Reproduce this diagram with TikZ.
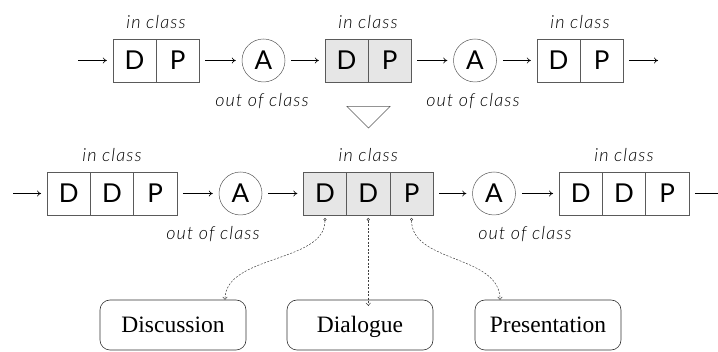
\documentclass[tikz,border=0pt]{standalone}
\usepackage{fontspec}
\setmainfont{Liberation Serif}
\newfontfamily\labfont{Lato}[UprightFont=* Light, ItalicFont=* Light Italic]
\newfontfamily\letfont{Lato}
\usetikzlibrary{arrows.meta}
\definecolor{cellgray}{HTML}{E6E6E6}
\definecolor{linegray}{HTML}{5A5A5A}
\begin{document}
\begin{tikzpicture}[x=1pt,y=-1pt,
  cell/.style={draw=linegray, line width=0.5pt, minimum width=43.3pt, minimum height=43pt,
    inner sep=0pt, outer sep=0pt, font=\letfont\fontsize{26}{26}\selectfont},
  hl/.style={fill=cellgray},
  act/.style={circle, draw=linegray, line width=0.5pt, minimum size=43pt, inner sep=0pt,
    font=\letfont\fontsize{26}{26}\selectfont},
  lab/.style={font=\labfont\itshape\addfontfeature{LetterSpace=6}\fontsize{18}{18}\selectfont, inner sep=0pt},
  flow/.style={-{To[length=4pt,width=6pt]}, line width=0.6pt, shorten <=6pt, shorten >=6pt},
  mode/.style={draw=black!80, line width=0.6pt, rounded corners=10pt, minimum width=146pt,
    minimum height=50pt, inner sep=0pt, text height=18pt, text depth=3pt,
    font=\fontsize{23.5}{23.5}\selectfont},
  link/.style={dashed, dash pattern=on 2pt off 1.5pt, line width=0.5pt, draw=black!75,
    {Circle[open,length=3pt,width=3pt]}-{To[length=3pt,width=5pt]}}
]
\useasboundingbox (0,0) rectangle (718,352);

% ---------- top row ----------
\coordinate (t0) at (78,60.5);
\node[cell] (t1d) at (134.5,60.5) {D};
\node[cell] (t1p) at (177.8,60.5) {P};
\node[act] (ta1) at (263.5,60.5) {A};
\node[cell,hl] (t2d) at (346.5,60.5) {D};
\node[cell,hl] (t2p) at (389.8,60.5) {P};
\node[act] (ta2) at (475,60.5) {A};
\node[cell] (t3d) at (558.5,60.5) {D};
\node[cell] (t3p) at (601.8,60.5) {P};
\coordinate (t9) at (658,60.5);

\draw[flow, shorten <=0pt] (t0) -- (t1d);
\draw[flow] (t1p) -- (ta1);
\draw[flow] (ta1) -- (t2d);
\draw[flow] (t2p) -- (ta2);
\draw[flow] (ta2) -- (t3d);
\draw[flow, shorten >=0pt] (t3p) -- (t9);

\node[lab] (tl1) at (156,22) {in class};
\node[lab] (tl2) at (368,22) {in class};
\node[lab] (tl3) at (580,22) {in class};
\node[lab] (to1) at (262,101) {out of class};
\node[lab] (to2) at (473,101) {out of class};

% ---------- transition triangle ----------
\draw[linegray, line width=0.5pt] (347,106.5) -- (390,106.5) -- (368.5,128) -- cycle;

% ---------- bottom row ----------
\coordinate (b0) at (13,193.5);
\node[cell] (b1a) at (68.7,193.5) {D};
\node[cell] (b1b) at (112,193.5) {D};
\node[cell] (b1c) at (155.3,193.5) {P};
\node[act] (ba1) at (240.5,193.5) {A};
\node[cell,hl] (b2a) at (325,193.5) {D};
\node[cell,hl] (b2b) at (368.3,193.5) {D};
\node[cell,hl] (b2c) at (411.6,193.5) {P};
\node[act] (ba2) at (494,193.5) {A};
\node[cell] (b3a) at (580.7,193.5) {D};
\node[cell] (b3b) at (624,193.5) {D};
\node[cell] (b3c) at (667.3,193.5) {P};
\coordinate (b9) at (718,193.5);

\draw[flow, shorten <=0pt] (b0) -- (b1a);
\draw[flow] (b1c) -- (ba1);
\draw[flow] (ba1) -- (b2a);
\draw[flow] (b2c) -- (ba2);
\draw[flow] (ba2) -- (b3a);
\draw[line width=0.6pt, shorten <=6pt] (b3c) -- (b9);

\node[lab] (bl1) at (112,155) {in class};
\node[lab] (bl2) at (368.3,155) {in class};
\node[lab] (bl3) at (624,155) {in class};
\node[lab] (bo1) at (213,234) {out of class};
\node[lab] (bo2) at (525,234) {out of class};

% ---------- modes ----------
\node[mode] (disc) at (173,325) {Discussion};
\node[mode] (dial) at (360,325) {Dialogue};
\node[mode] (pres) at (548,325) {Presentation};

\draw[link] ([yshift=-3pt]b2a.south) .. controls +(0,45) and +(0,-45) .. ([xshift=52pt]disc.north);
\draw[link] ([yshift=-3pt]b2b.south) -- ([yshift=-6pt]b2b.south |- dial.north);
\draw[link] ([yshift=-3pt]b2c.south) .. controls +(0,45) and +(0,-45) .. ([xshift=-48pt]pres.north);
\end{tikzpicture}
\end{document}
